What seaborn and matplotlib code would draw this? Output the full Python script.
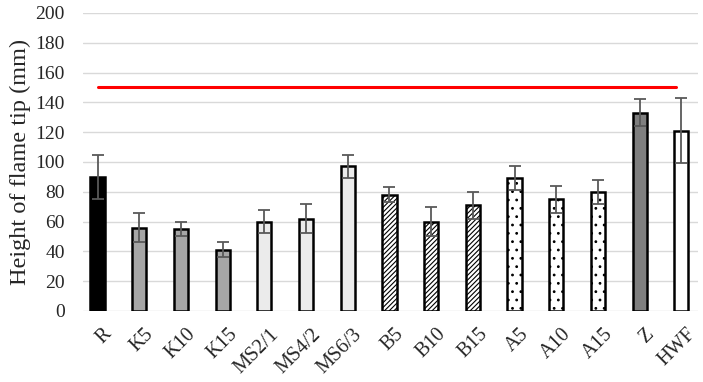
import matplotlib
matplotlib.use("Agg")
import matplotlib.pyplot as plt
import matplotlib.transforms as mtransforms
import seaborn as sns
import pandas as pd

categories = ["R", "K5", "K10", "K15", "MS2/1", "MS4/2", "MS6/3", "B5", "B10", "B15",
              "A5", "A10", "A15", "Z", "HWF"]
heights = [90, 56, 55, 41, 60, 62, 97, 78, 60, 71, 89, 75, 80, 133, 121]
errors = [15, 10, 5, 5, 8, 10, 8, 5, 10, 9, 8, 9, 8, 9, 22]
limit_value = 150
colors = ["#000000", "#a6a6a6", "#a6a6a6", "#a6a6a6", "#ebebeb", "#ebebeb", "#ebebeb",
          "#ffffff", "#ffffff", "#ffffff", "#ffffff", "#ffffff", "#ffffff", "#7f7f7f", "#ffffff"]
hatches = ["", "", "", "", "", "", "", "///////", "///////", "///////", "..", "..", "..", "", ""]
yticks = [0, 20, 40, 60, 80, 100, 120, 140, 160, 180, 200]

sns.set_theme(style="white")
plt.rcParams["font.family"] = ["Liberation Serif", "DejaVu Serif"]
plt.rcParams["hatch.linewidth"] = 0.8

df = pd.DataFrame({"cat": categories, "h": heights})
fig = plt.figure(figsize=(7.03, 3.82), dpi=100)
ax = fig.add_axes([0.118, 0.186, 0.875, 0.78])

sns.barplot(data=df, x="cat", y="h", hue="cat", palette=colors, legend=False,
            width=0.34, edgecolor="black", linewidth=1.8, ax=ax, zorder=3)
for patch, hatch in zip(ax.patches, hatches):
    patch.set_hatch(hatch)

xs = list(range(len(categories)))
ax.errorbar(xs, heights, yerr=errors, fmt="none", ecolor="#595959", elinewidth=1.3,
            capsize=4, capthick=1.3, zorder=4)
ax.plot([xs[0], xs[-1] - 0.12], [limit_value, limit_value], color="#ff0000", lw=2.2, zorder=5)

ax.set_ylim(0, 200)
ax.set_xlim(-0.35, len(categories) - 0.6)
ax.set_yticks(yticks)
ax.yaxis.grid(True, color="#d9d9d9", lw=1.0, zorder=0)
ax.set_axisbelow(True)
for s in ax.spines.values():
    s.set_visible(False)
ax.set_xlabel("")
ax.set_ylabel("Height of flame tip (mm)", fontsize=17.5, labelpad=3)
ax.tick_params(axis="y", labelsize=14, length=0, pad=13)
ax.tick_params(axis="x", labelsize=14.5, length=0, pad=10)
offset = mtransforms.ScaledTranslation(0.05, 0, fig.dpi_scale_trans)
for lbl in ax.get_xticklabels():
    lbl.set_rotation(45)
    lbl.set_ha("right")
    lbl.set_rotation_mode("anchor")
    lbl.set_transform(lbl.get_transform() + offset)

fig.savefig("out.png", dpi=100)
